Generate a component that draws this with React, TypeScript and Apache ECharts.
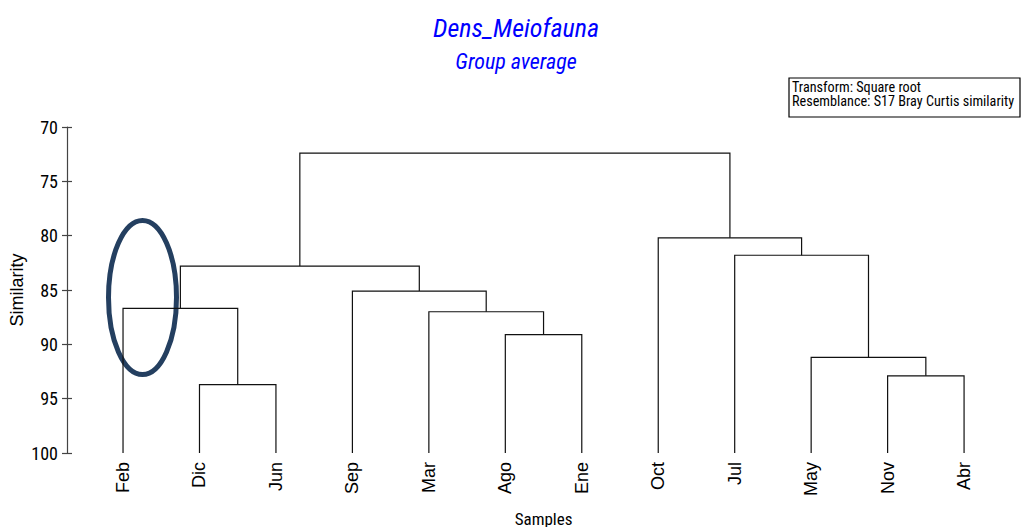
import React, { useEffect, useRef } from "react";
import * as echarts from "echarts";

const leafLabels = ["Feb", "Dic", "Jun", "Sep", "Mar", "Ago", "Ene", "Oct", "Jul", "May", "Nov", "Abr"];
// node ids: 0..11 leaves, 12.. merges (in order below)
const mergeLeft = [1, 0, 5, 4, 3, 13, 10, 9, 8, 7, 17];
const mergeRight = [2, 12, 6, 14, 15, 16, 11, 18, 19, 20, 21];
const mergeSimilarity = [93.7, 86.7, 89.1, 87.0, 85.1, 82.8, 92.9, 91.2, 81.8, 80.2, 72.4];
const leafSimilarity = 100;
const yMin = 70;
const yMax = 100;
const yInterval = 5;

const chartTitle = "Dens_Meiofauna";
const chartSubtitle = "Group average";
const noteLines = ["Transform: Square root", "Resemblance: S17 Bray Curtis similarity"];

const NARROW = "'Roboto Condensed', 'Liberation Sans', Arial, sans-serif";
const REGULAR = "'Liberation Sans', Arial, sans-serif";

export default function App() {
  const ref = useRef<HTMLDivElement>(null);
  useEffect(() => {
    if (!ref.current) return;
    const chart = echarts.init(ref.current, null, { renderer: "svg" });
    const n = leafLabels.length;
    const option: any = {
      animation: false,
      backgroundColor: "#fff",
      title: {
        text: chartTitle,
        subtext: chartSubtitle,
        left: 511,
        textAlign: "center",
        top: 10,
        itemGap: 9,
        textStyle: { color: "#0000ff", fontStyle: "italic", fontWeight: "normal", fontSize: 26, fontFamily: NARROW },
        subtextStyle: { color: "#0000ff", fontStyle: "italic", fontSize: 22, fontFamily: NARROW },
      },
      grid: { left: 84.8, right: 18.7, top: 127, bottom: 74, containLabel: false, outerBoundsMode: "none" },
      xAxis: {
        type: "category",
        data: leafLabels,
        boundaryGap: true,
        name: "Samples",
        nameLocation: "middle",
        nameGap: 57,
        nameMoveOverlap: false,
        nameTextStyle: { color: "#000", fontSize: 17, fontFamily: NARROW },
        axisLine: { show: false },
        axisTick: { show: false },
        axisLabel: { rotate: 90, margin: 9, color: "#000", fontSize: 18, fontFamily: REGULAR },
        splitLine: { show: false },
      },
      yAxis: [
        {
          type: "value",
          inverse: true,
          min: yMin,
          max: yMax,
          interval: yInterval,
          position: "left",
          offset: 17.8,
          name: "Similarity",
          nameLocation: "middle",
          nameGap: 41,
          nameMoveOverlap: false,
          nameTextStyle: { color: "#000", fontSize: 18, fontFamily: REGULAR },
          axisLine: { show: true, lineStyle: { color: "#444", width: 1.2 } },
          axisTick: { show: true, inside: false, length: 5, lineStyle: { color: "#444", width: 1.2 } },
          axisLabel: { margin: 9, color: "#000", fontSize: 18, fontFamily: NARROW },
          splitLine: { show: false },
        },
        {
          type: "value",
          inverse: true,
          min: yMin,
          max: yMax,
          interval: yInterval,
          position: "left",
          offset: 17.8,
          axisLine: { show: false },
          axisTick: { show: true, inside: true, length: 5, lineStyle: { color: "#444", width: 1.2 } },
          axisLabel: { show: false },
          splitLine: { show: false },
        },
      ],
      series: [
        {
          type: "custom",
          coordinateSystem: "cartesian2d",
          xAxisIndex: 0,
          yAxisIndex: 0,
          encode: { x: 0, y: 1 },
          data: mergeSimilarity.map((s, i) => [i, s]),
          renderItem: (params: any, api: any) => {
            const i = api.value(0);
            const nodeX = (id: number): number =>
              id < n ? api.coord([id, leafSimilarity])[0] : (nodeX(mergeLeft[id - n]) + nodeX(mergeRight[id - n])) / 2;
            const nodeY = (id: number): number =>
              api.coord([0, id < n ? leafSimilarity : mergeSimilarity[id - n]])[1];
            const l = mergeLeft[i];
            const r = mergeRight[i];
            const hy = api.coord([0, mergeSimilarity[i]])[1];
            const lx = nodeX(l);
            const rx = nodeX(r);
            return {
              type: "polyline",
              shape: { points: [[lx, nodeY(l)], [lx, hy], [rx, hy], [rx, nodeY(r)]] },
              style: { stroke: "#111", fill: null, lineWidth: 1.2 },
            };
          },
        },
      ],
      graphic: [
        {
          type: "rect",
          shape: { x: 789, y: 78, width: 231, height: 39 },
          style: { fill: "#fff", stroke: "#000", lineWidth: 1.2 },
        },
        {
          type: "text",
          x: 792,
          y: 87,
          style: { text: noteLines[0], fill: "#000", fontSize: 14.2, lineHeight: 13, verticalAlign: "middle", fontFamily: NARROW },
        },
        {
          type: "text",
          x: 792,
          y: 101,
          style: { text: noteLines[1], fill: "#000", fontSize: 14.2, lineHeight: 13, verticalAlign: "middle", fontFamily: NARROW },
        },
        {
          type: "ellipse",
          shape: { cx: 142.5, cy: 297.5, rx: 34, ry: 77 },
          style: { fill: null, stroke: "#243f60", lineWidth: 5 },
        },
      ],
    };
    chart.setOption(option);
    return () => chart.dispose();
  }, []);
  return <div ref={ref} style={{ position: "fixed", left: 0, top: 0, width: 1021, height: 527 }} />;
}
